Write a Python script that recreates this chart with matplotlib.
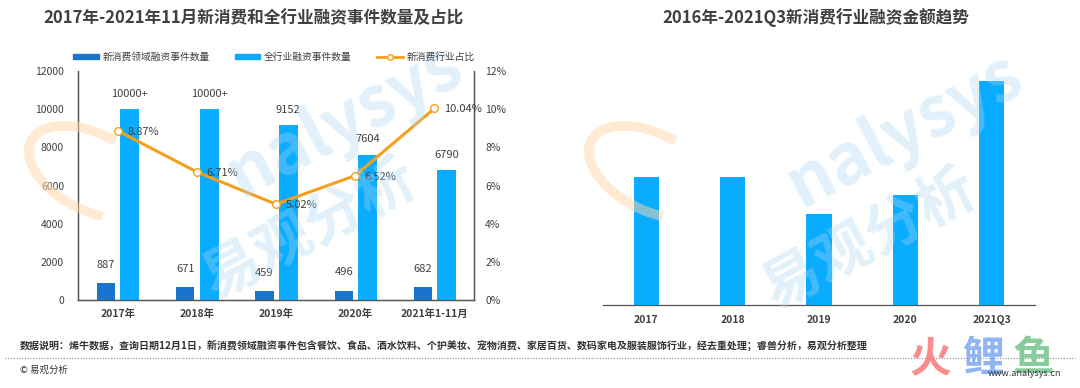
import numpy as np
import matplotlib
matplotlib.use('Agg')
from matplotlib import pyplot as plt
from matplotlib.lines import Line2D
from matplotlib.patches import Patch, Arc

plt.rcParams['font.family'] = ['Noto Sans CJK SC', 'DejaVu Sans']

# left chart data
years_l = ['2017年', '2018年', '2019年', '2020年', '2021年1-11月']
new_cnt = [887, 671, 459, 496, 682]
all_cnt = [10000, 10000, 9152, 7604, 6790]
all_lbl = ['10000+', '10000+', '9152', '7604', '6790']
ratio = [8.87, 6.71, 5.02, 6.52, 10.04]

# right chart data (no axis given, bar heights estimated)
years_r = ['2017', '2018', '2019', '2020', '2021Q3']
amount = [128, 128, 91, 110, 224]

dark = '#1874CD'
light = '#0AACFF'
orange = '#F5A01A'
txt = '#404040'

fig = plt.figure(figsize=(10.8, 3.88), dpi=100)
W, H = 1080, 388

def box(x0, y0, x1, y1):
    return [x0 / W, 1 - y1 / H, (x1 - x0) / W, (y1 - y0) / H]

# ---------------- watermarks (behind everything)
for dx, cx, cy in [(0, 300, 175), (560, 860, 185)]:
    fig.text((cx + 45) / W, 1 - (cy - 55) / H, 'nalysys', ha='center', va='center',
             fontsize=50, fontweight='bold', color='#A8D6F2', alpha=0.35, rotation=28,
             zorder=0)
    fig.text((cx + 10) / W, 1 - (cy + 55) / H, '易观分析', ha='center', va='center',
             fontsize=42, fontweight='bold', color='#A8D6F2', alpha=0.35, rotation=28,
             zorder=0)
    arc = Arc(((92 + dx) / W, 1 - 172 / H), 110 / W, 95 / H, angle=15,
              theta1=60, theta2=260, color='#FFD9A8', lw=7, alpha=0.5,
              transform=fig.transFigure, zorder=0)
    fig.patches.append(arc)

# ---------------- left chart
ax = fig.add_axes(box(78, 71, 474, 300))
ax.patch.set_alpha(0)
x = np.arange(len(years_l))
ax.bar(x - 0.145, new_cnt, width=0.23, color=dark, zorder=3)
ax.bar(x + 0.155, all_cnt, width=0.24, color=light, zorder=3)
ax.set_xlim(-0.5, 4.5)
ax.set_ylim(0, 12000)
ax.set_yticks(range(0, 12001, 2000))
ax.set_xticks(x)
ax.set_xticklabels(years_l, fontsize=7.5, color=txt, fontweight='bold')
ax.tick_params(axis='y', labelsize=7.5, colors=txt, length=0, pad=10)
ax.tick_params(axis='x', length=0, pad=6)
ax.spines['top'].set_visible(False)
for s in ['left', 'right', 'bottom']:
    ax.spines[s].set_color('#555555')
    ax.spines[s].set_linewidth(0.9)
for i in range(len(x)):
    ax.text(x[i] - 0.145, new_cnt[i] + 700, str(new_cnt[i]), ha='center', va='bottom',
            fontsize=8, color=txt, zorder=5)
    ax.text(x[i] + 0.155, all_cnt[i] + 550, all_lbl[i], ha='center', va='bottom',
            fontsize=8, color=txt, zorder=5)

ax2 = ax.twinx()
ax2.plot(x, ratio, color=orange, lw=2.2, marker='o', ms=5.5, mfc='white', mec=orange,
         mew=1, zorder=4)
ax2.set_ylim(0, 12)
ax2.set_yticks(range(0, 13, 2))
ax2.set_yticklabels(['{}%'.format(v) for v in range(0, 13, 2)])
ax2.tick_params(axis='y', labelsize=7.5, colors=txt, length=0, pad=8)
ax2.spines['top'].set_visible(False)
for s in ['left', 'right', 'bottom']:
    ax2.spines[s].set_color('#555555')
    ax2.spines[s].set_linewidth(0.9)
for i in range(len(x)):
    ax2.text(x[i] + 0.12, ratio[i] - 0.05, '{:.2f}%'.format(ratio[i]), ha='left',
             va='center', fontsize=8, color=txt, zorder=5)

handles = [Patch(color=dark), Patch(color=light),
           Line2D([0], [0], color=orange, lw=2, marker='o', ms=4, mfc='white', mec=orange)]
labels = ['新消费领域融资事件数量', '全行业融资事件数量', '新消费行业占比']
fig.legend(handles, labels, loc='center', bbox_to_anchor=(274 / W, 1 - 57 / H), ncol=3,
           frameon=False, fontsize=7, labelcolor=txt, handlelength=2.6, handleheight=0.5,
           columnspacing=2.6, handletextpad=0.4)

fig.text(253 / W, 1 - 18 / H, '2017年-2021年11月新消费和全行业融资事件数量及占比',
         ha='center', va='center', fontsize=12, color=txt, fontweight='bold')

# ---------------- right chart
ar = fig.add_axes(box(603, 71, 1035, 305))
ar.patch.set_alpha(0)
xr = np.arange(len(years_r))
ar.bar(xr, amount, width=0.29, color=light, zorder=3)
ar.set_xlim(-0.5, 4.5)
ar.set_ylim(0, 234)
ar.set_yticks([])
ar.set_xticks(xr)
ar.set_xticklabels(years_r, fontsize=7.5, color=txt, fontweight='bold')
ar.tick_params(axis='x', length=0, pad=7)
for s in ['top', 'left', 'right']:
    ar.spines[s].set_visible(False)
ar.spines['bottom'].set_color('#555555')
ar.spines['bottom'].set_linewidth(0.9)

fig.text(816 / W, 1 - 18 / H, '2016年-2021Q3新消费行业融资金额趋势',
         ha='center', va='center', fontsize=12, color=txt, fontweight='bold')

# ---------------- footer
fig.text(20 / W, 1 - 345 / H,
         '数据说明：烯牛数据，查询日期12月1日，新消费领域融资事件包含餐饮、食品、酒水饮料、个护美妆、宠物消费、家居百货、数码家电及服装服饰行业，经去重处理；睿兽分析，易观分析整理',
         ha='left', va='center', fontsize=7.2, color='#333333', fontweight='bold')
fig.add_artist(Line2D([5 / W, 1075 / W], [1 - 358 / H, 1 - 358 / H], color='#888888',
                      lw=0.8, ls=(0, (1, 1.5))))
fig.text(20 / W, 1 - 370 / H, '© 易观分析', ha='left', va='center', fontsize=6.8, color='#333333')

for ch, cx, col in [('火', 930, '#F87878'), ('鲤', 983, '#7EA8F0'), ('鱼', 1033, '#74C48A')]:
    fig.text(cx / W, 1 - 359 / H, ch, ha='center', va='center', fontsize=30,
             fontweight='bold', color=col, alpha=0.85)
fig.text(1025 / W, 1 - 373 / H, 'www.analysys.cn', ha='center', va='center', fontsize=6.5,
         color='#333333')

fig.savefig('out.png', dpi=100)
